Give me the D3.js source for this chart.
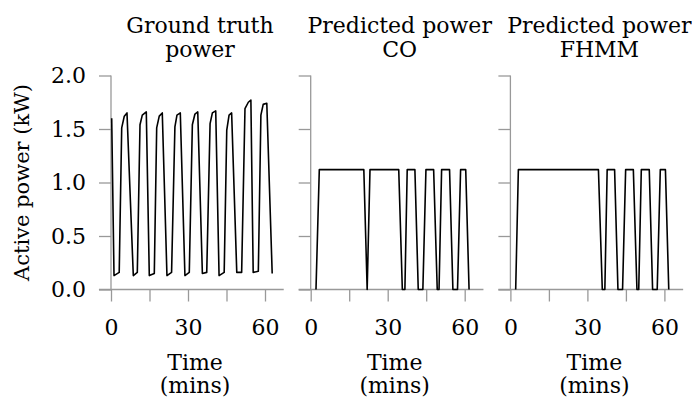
<!DOCTYPE html>
<html>
<head>
<meta charset="utf-8">
<script src="https://cdn.jsdelivr.net/npm/d3@7"></script>
<style>
  body { margin: 0; background: #fff; }
  svg { display: block; }
  text { font-family: "DejaVu Serif", serif; fill: #000; }
</style>
</head>
<body>
<svg id="chart" width="692" height="401"></svg>
<script>
// ---------- data ----------
const panelTitles = [["Ground truth", "power"], ["Predicted power", "CO"], ["Predicted power", "FHMM"]];
const xTickValues = [0, 15, 30, 45, 60];
const xTickLabels = ["0", "", "30", "", "60"];
const yTickValues = [0, 0.5, 1.0, 1.5, 2.0];
const yTickLabels = ["0.0", "0.5", "1.0", "1.5", "2.0"];
const yLabel = "Active power (kW)";
const xLabel = ["Time", "(mins)"];

const truthTime = [0.27, 1.17, 3.2, 4.17, 5.18, 6.23, 8.69, 10.25, 11.3, 12.19, 13.75, 14.92, 16.87, 17.8, 18.8, 19.98,
  21.8, 23.6, 24.9, 25.7, 27.0, 28.8, 30.5, 31.7, 32.7, 33.8, 35.6, 37.3, 38.6, 39.5, 40.8, 42.1, 44.1, 45.1, 46.0, 47.0,
  49.0, 50.9, 52.2, 53.5, 54.5, 55.4, 57.4, 58.4, 59.3, 60.7, 62.8];
const truthPower = [1.60, 0.13, 0.16, 1.51, 1.62, 1.65, 0.13, 0.16, 1.54, 1.63, 1.66, 0.13, 0.15, 1.51, 1.62, 1.65,
  0.13, 0.16, 1.52, 1.63, 1.65, 0.13, 0.16, 1.54, 1.64, 1.66, 0.15, 0.16, 1.55, 1.65, 1.67, 0.13, 0.16, 1.49, 1.63, 1.65,
  0.16, 0.16, 1.69, 1.75, 1.77, 0.16, 0.17, 1.63, 1.73, 1.74, 0.15];

const coTime = [2.06, 3.35, 20.7, 22.0, 23.1, 34.3, 35.7, 36.7, 37.6, 40.6, 41.9, 43.7, 44.9, 47.9, 49.3, 50.0, 51.0,
  54.1, 55.4, 57.2, 58.4, 60.4, 61.7];
const coPower = [0, 1.12, 1.12, 0, 1.12, 1.12, 0, 0, 1.12, 1.12, 0, 0, 1.12, 1.12, 0, 0, 1.12,
  1.12, 0, 0, 1.12, 1.12, 0];

const fhmmTime = [2.06, 3.1, 34.3, 35.8, 36.8, 37.7, 40.6, 41.9, 43.7, 44.9, 47.9, 49.3, 50.0, 51.0,
  54.1, 55.4, 57.2, 58.4, 60.4, 61.7];
const fhmmPower = [0, 1.12, 1.12, 0, 0, 1.12, 1.12, 0, 0, 1.12, 1.12, 0, 0, 1.12,
  1.12, 0, 0, 1.12, 1.12, 0];

const seriesTimes = [truthTime, coTime, fhmmTime];
const seriesPowers = [truthPower, coPower, fhmmPower];

// ---------- layout ----------
const svg = d3.select("#chart");
const FONT = 22;
const axisColor = "#999";
const panelX0 = [111, 310.7, 510.4];
const panelW = 154;   // width of 0..60 min
const yBottom = 289.5, yTop = 75.5;
const y = d3.scaleLinear().domain([0, 2]).range([yBottom, yTop]);

panelTitles.forEach((title, i) => {
  const x = d3.scaleLinear().domain([0, 60]).range([panelX0[i], panelX0[i] + panelW]);
  const g = svg.append("g");

  // x axis
  const xa = g.append("g").attr("transform", `translate(0,${yBottom})`)
    .call(d3.axisBottom(x).tickValues(xTickValues).tickSize(12).tickPadding(18)
      .tickFormat((d, k) => xTickLabels[k]));
  xa.select(".domain").remove();
  xa.append("line").attr("x1", x(-4.7)).attr("x2", x(67.3)).attr("y1", 0).attr("y2", 0)
    .attr("stroke", axisColor).attr("stroke-width", 1.3);
  xa.selectAll(".tick line").attr("stroke", axisColor).attr("stroke-width", 1.3);
  xa.selectAll(".tick text").attr("font-size", FONT).attr("font-family", "DejaVu Serif").attr("fill", "#000");

  // y axis
  const ya = g.append("g").attr("transform", `translate(${x(0)},0)`)
    .call(d3.axisLeft(y).tickValues(yTickValues).tickSize(12).tickPadding(13)
      .tickFormat((d, k) => i === 0 ? yTickLabels[k] : ""));
  ya.select(".domain").remove();
  ya.append("line").attr("x1", 0).attr("x2", 0).attr("y1", y(2)).attr("y2", y(0))
    .attr("stroke", axisColor).attr("stroke-width", 1.3);
  ya.selectAll(".tick line").attr("stroke", axisColor).attr("stroke-width", 1.3);
  ya.selectAll(".tick text").attr("font-size", FONT).attr("font-family", "DejaVu Serif").attr("fill", "#000");

  // line
  const pts = seriesTimes[i].map((t, k) => [t, seriesPowers[i][k]]);
  g.append("path").datum(pts)
    .attr("fill", "none").attr("stroke", "#000").attr("stroke-width", 1.6)
    .attr("stroke-linejoin", "round")
    .attr("d", d3.line().x(d => x(d[0])).y(d => y(d[1])));

  // title
  const cx = x(0) + 89;
  g.append("text").attr("x", cx).attr("y", 33).attr("text-anchor", "middle").attr("font-size", FONT).text(title[0]);
  g.append("text").attr("x", cx).attr("y", 57).attr("text-anchor", "middle").attr("font-size", FONT).text(title[1]);

  // x label
  const lx = x(0) + 84;
  g.append("text").attr("x", lx).attr("y", 370).attr("text-anchor", "middle").attr("font-size", FONT).text(xLabel[0]);
  g.append("text").attr("x", lx).attr("y", 393).attr("text-anchor", "middle").attr("font-size", FONT).text(xLabel[1]);
});

// y label
svg.append("text")
  .attr("transform", `translate(29,${(yTop + yBottom) / 2}) rotate(-90)`)
  .attr("text-anchor", "middle").attr("font-size", 21).text(yLabel);
</script>
</body>
</html>
